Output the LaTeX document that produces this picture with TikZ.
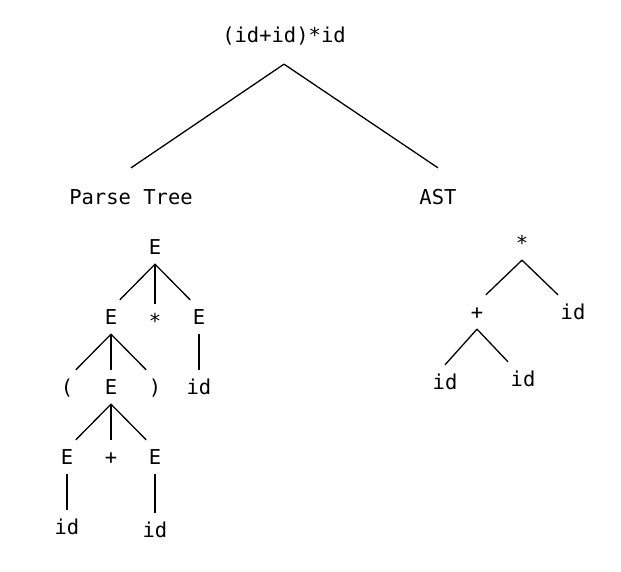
\documentclass[tikz,border=0pt]{standalone}
\usepackage{fontspec}
\setmonofont{DejaVu Sans Mono}
\usepackage{tikz}
\usetikzlibrary{matrix}

\begin{document}
\begin{tikzpicture}[x=1pt,y=-1pt,line width=1.3pt,
  every node/.style={font=\ttfamily\fontsize{20.5}{22}\selectfont, text height=15pt, text depth=0pt, inner xsep=2pt, inner ysep=9pt},
  title/.style={inner ysep=21pt}]
\useasboundingbox (0,0) rectangle (621,571);
\node[title] (expr) at (284,35) {(id+id)*id};
\node[title] (parse) at (131,197) {Parse Tree};
\node[title] (ast) at (438,197) {AST};
\draw (expr.south) -- (parse.north);
\draw (expr.south) -- (ast.north);
% parse tree
\matrix[matrix of nodes, matrix anchor=P-1-3.center, row sep={70pt,between origins}, column sep={44pt,between origins}] (P) at (155,247) {
   &   & E & \\
   & E & |[yshift=-4pt]|* & E \\
 ( & E & ) & id \\
 E & + & E & \\
 id &  & |[yshift=-3pt]|id & \\
};
\foreach \a/\b in {1-3/2-2.north east, 1-3/2-3.north, 1-3/2-4.north west,
  2-2/3-1.north east, 2-2/3-2.north, 2-2/3-3.north west, 2-4/3-4.north,
  3-2/4-1.north east, 3-2/4-2.north, 3-2/4-3.north west,
  4-1/5-1.north, 4-3/5-3.north}
  \draw (P-\a.south) -- (P-\b);
% AST
\node (star) at (522,243) {*};
\node (plus) at (477,312) {+};
\node (idr) at (573,312) {id};
\node (idl) at (445,382) {id};
\node (idm) at (523,379) {id};
\draw (star.south) -- (plus.north east);
\draw (star.south) -- (idr.north west);
\draw (plus.south) -- (idl.north);
\draw (plus.south) -- (idm.north west);
\end{tikzpicture}
\end{document}
